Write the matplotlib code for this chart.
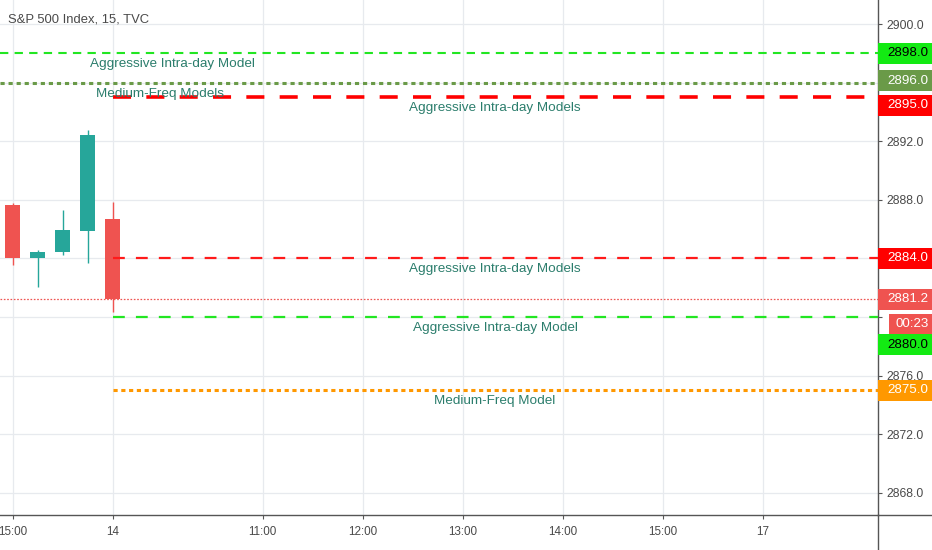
import matplotlib
matplotlib.use("Agg")
import matplotlib.pyplot as plt
import matplotlib.transforms as mtransforms
from matplotlib.patches import Rectangle
from matplotlib.lines import Line2D

plt.rcParams["font.family"] = ["Liberation Sans Narrow", "Liberation Sans", "DejaVu Sans"]
plt.rcParams["lines.scale_dashes"] = False

# =========================================================
# Data (15 min candles, S&P 500)
# =========================================================

bar_idx = [0, 1, 2, 3, 4]
opens = [2887.65, 2884.00, 2884.42, 2885.87, 2886.69]
highs = [2887.80, 2884.57, 2887.30, 2892.76, 2887.87]
lows = [2883.55, 2882.07, 2884.23, 2883.71, 2880.34]
closes = [2884.03, 2884.46, 2885.94, 2892.42, 2881.20]

x_tick_pos = [0, 4, 10, 14, 18, 22, 26, 30]
x_tick_labels = ["15:00", "14", "11:00", "12:00", "13:00", "14:00", "15:00", "17"]
y_ticks = [2868, 2872, 2876, 2880, 2884, 2888, 2892, 2896, 2900]
# scale labels hidden behind the price tags
y_hidden = [2880, 2884, 2896]

levels = [2898.0, 2896.0, 2895.0, 2884.0, 2880.0, 2875.0]
level_notes = [
    "Aggressive Intra-day Model",
    "Medium-Freq Models",
    "Aggressive Intra-day Models",
    "Aggressive Intra-day Models",
    "Aggressive Intra-day Model",
    "Medium-Freq Model",
]
last_price = 2881.2
countdown = "00:23"

# =========================================================
# Styles
# =========================================================

W, H = 932, 550
AX_RIGHT, AX_BOTTOM = 878, 515
X_LIM = (-0.5, 34.62)
Y_LIM = (2866.48, 2901.64)

UP, DOWN = "#26a69a", "#ef5350"
NOTE_COLOR = "#2b7d6c"
TEXT_COLOR = "#4a4a4a"
GRID_COLOR = "#e7eaee"

# start of line (None = left edge), colour, width, dashes, note x, tag face, tag text, tag shift px
level_styles = [
    (None, "#22e622", 1.5, (6.0, 4.5), 6.4, "#13ea13", "black", 0),
    (None, "#6a9a48", 2.2, (3.0, 2.8), 5.9, "#6a9a48", "white", -2),
    (4, "#ff0000", 2.6, (13.0, 11.0), 19.3, "#ff0000", "white", 8),
    (4, "#ff1a1a", 1.6, (8.5, 8.0), 19.3, "#ff0000", "white", 0),
    (4, "#22e622", 1.6, (8.5, 8.0), 19.3, "#13ea13", "black", 28),
    (4, "#ff9800", 2.2, (3.0, 2.6), 19.3, "#ff9800", "white", 0),
]

fig = plt.figure(figsize=(W / 100, H / 100), dpi=100)
ax = fig.add_axes([0, (H - AX_BOTTOM) / H, AX_RIGHT / W, AX_BOTTOM / H])
ax.set_xlim(*X_LIM)
ax.set_ylim(*Y_LIM)

# grid + scales
ax.set_xticks(x_tick_pos)
ax.set_xticklabels(x_tick_labels)
ax.set_yticks(y_ticks)
ax.set_yticklabels(["" if v in y_hidden else f"{v:.1f}" for v in y_ticks])
ax.grid(True, color=GRID_COLOR, linewidth=0.9, zorder=0)
ax.set_axisbelow(True)

ax.yaxis.tick_right()
ax.tick_params(axis="both", colors="#555555", labelcolor=TEXT_COLOR,
               labelsize=8.8, length=3, width=0.8)
ax.tick_params(axis="x", labelsize=8.4, pad=5)
ax.tick_params(axis="y", pad=3)

for side in ["top", "left"]:
    ax.spines[side].set_visible(False)
for side in ["right", "bottom"]:
    ax.spines[side].set_color("#555555")
    ax.spines[side].set_linewidth(1)

# candles
for i, o, h, l, c in zip(bar_idx, opens, highs, lows, closes):
    col = UP if c >= o else DOWN
    ax.vlines(i, l, h, color=col, linewidth=1, zorder=3)
    ax.bar(i, abs(c - o), bottom=min(o, c), width=0.6, color=col, zorder=4)

# last price line
ax.hlines(last_price, X_LIM[0], X_LIM[1], color=DOWN, linewidth=0.9,
          linestyles=(0, (1.2, 1.2)), zorder=2)

# model levels
for lvl, note, st in zip(levels, level_notes, level_styles):
    start, col, lw, dash, note_x, _, _, _ = st
    x0 = X_LIM[0] if start is None else start
    ax.plot([x0, X_LIM[1]], [lvl, lvl], color=col, linewidth=lw,
            dashes=dash, zorder=5, solid_capstyle="butt", dash_capstyle="butt")
    ax.annotate(note, xy=(note_x, lvl), xytext=(0, -11), textcoords="offset pixels",
                ha="center", va="center", color=NOTE_COLOR, fontsize=9.7, zorder=6)

# price tags on the right scale
px_per_unit = AX_BOTTOM / (Y_LIM[1] - Y_LIM[0])
tag_h = 21 / px_per_unit
trans = mtransforms.blended_transform_factory(ax.transAxes, ax.transData)
tag_w = (W - AX_RIGHT) / AX_RIGHT
text_x = 1 + 9 / AX_RIGHT


def price_tag(value, label, face, fg, shift, x=1.0, w=tag_w):
    yc = value - shift / px_per_unit
    ax.add_patch(Rectangle((x, yc - tag_h / 2), w, tag_h, transform=trans,
                           facecolor=face, edgecolor="none", clip_on=False, zorder=10))
    ax.text(text_x if x == 1.0 else x + 6 / AX_RIGHT, yc, label, transform=trans,
            color=fg, fontsize=9.6, va="center", ha="left", clip_on=False, zorder=11)


tag_order = [0, 1, 2, 3, 5]
for k in tag_order:
    _, _, _, _, _, face, fg, shift = level_styles[k]
    price_tag(levels[k], f"{levels[k]:.1f}", face, fg, shift)

price_tag(last_price, f"{last_price:.1f}", DOWN, "white", 0)
price_tag(last_price, countdown, DOWN, "white", 25,
          x=1 + 11 / AX_RIGHT, w=(W - AX_RIGHT - 11) / AX_RIGHT)
_, _, _, _, _, face, fg, shift = level_styles[4]
price_tag(levels[4], f"{levels[4]:.1f}", face, fg, shift)

# axis frame extensions
xr = AX_RIGHT / W
yb = (H - AX_BOTTOM) / H
fig.add_artist(Line2D([xr, xr], [0, yb], transform=fig.transFigure, color="#555555", linewidth=1))
fig.add_artist(Line2D([xr, 1], [yb, yb], transform=fig.transFigure, color="#555555", linewidth=1))

fig.text(8 / W, 1 - 20 / H, "S&P 500 Index, 15, TVC", color=TEXT_COLOR,
         fontsize=9.4, va="center", ha="left")

fig.savefig("out.png", dpi=100, facecolor="white")
